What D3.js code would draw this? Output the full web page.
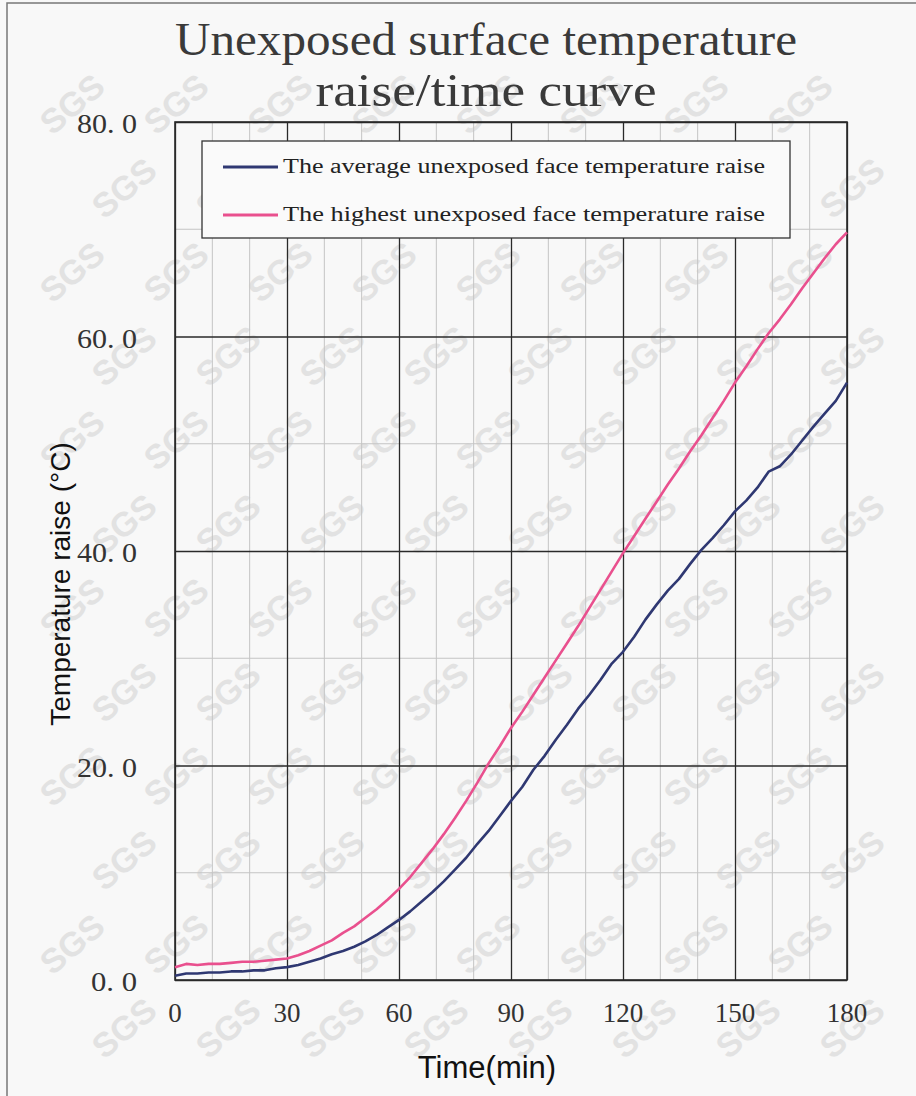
<!DOCTYPE html>
<html>
<head>
<meta charset="utf-8">
<script src="https://cdn.jsdelivr.net/npm/d3@7"></script>
<style>
  body { margin: 0; background: #f8f8f8; }
  svg { display: block; }
</style>
</head>
<body>
<svg></svg>
<script>
// chart data
const minutes = d3.range(0, 181, 3);
const averageRaise = [
  0.4, 0.6, 0.6, 0.7, 0.7, 0.8, 0.8, 0.9, 0.9, 1.1,
  1.2, 1.4, 1.7, 2.0, 2.4, 2.7, 3.1, 3.6, 4.2, 4.9,
  5.6, 6.4, 7.3, 8.2, 9.2, 10.3, 11.4, 12.7, 13.9, 15.3,
  16.7, 18.0, 19.6, 20.9, 22.4, 23.8, 25.3, 26.6, 28.0, 29.5,
  30.6, 32.0, 33.6, 35.0, 36.3, 37.4, 38.8, 40.1, 41.2, 42.4,
  43.7, 44.7, 45.9, 47.4, 47.9, 49.0, 50.3, 51.6, 52.8, 54.0,
  55.7
];
const highestRaise = [
  1.2, 1.5, 1.4, 1.5, 1.5, 1.6, 1.7, 1.7, 1.8, 1.9,
  2.0, 2.3, 2.7, 3.2, 3.7, 4.4, 5.0, 5.8, 6.6, 7.5,
  8.5, 9.6, 10.9, 12.2, 13.6, 15.1, 16.7, 18.4, 20.2, 21.8,
  23.5, 25.0, 26.6, 28.2, 29.8, 31.4, 33.0, 34.7, 36.4, 38.1,
  39.8, 41.4, 43.0, 44.6, 46.2, 47.7, 49.3, 50.8, 52.4, 54.0,
  55.7, 57.2, 58.8, 60.3, 61.6, 63.0, 64.5, 65.9, 67.3, 68.6,
  69.7
];
const seriesNames = [
  "The average unexposed face temperature raise",
  "The highest unexposed face temperature raise"
];
const seriesColors = ["#2f3872", "#e9508e"];
const xTicks = [0, 30, 60, 90, 120, 150, 180];
const yTicks = [0, 20, 40, 60, 80];
const titleLines = ["Unexposed surface temperature", "raise/time curve"];

const width = 916;
const height = 1096;
const plotLeft = 175, plotRight = 847, plotTop = 122, plotBottom = 980;

const svg = d3.select("svg")
  .attr("width", width)
  .attr("height", height);

svg.append("rect")
  .attr("width", width)
  .attr("height", height)
  .attr("fill", "#f8f8f8");

// scanned page border
svg.append("path")
  .attr("d", `M7,${height} V3 H${width}`)
  .attr("fill", "none")
  .attr("stroke", "#777")
  .attr("stroke-width", 1.5);

// SGS watermark, kept inside the page
const marks = svg.append("g").attr("fill", "#e2e2e2")
  .style("font-family", "Liberation Sans, Arial, sans-serif")
  .style("font-weight", "bold")
  .style("font-size", "34px");
for (let r = 0; r < 14; r++) {
  for (let c = 0; c < 10; c++) {
    const mx = 20 + c * 104 + (r % 2) * 52;
    const my = 20 + r * 84;
    if (mx < 45 || mx > width - 45 || my < 45 || my > height - 40) continue;
    marks.append("text")
      .attr("transform", `translate(${mx},${my}) rotate(-40)`)
      .attr("text-anchor", "middle")
      .attr("dy", "0.35em")
      .text("SGS");
  }
}

const x = d3.scaleLinear().domain([0, 180]).range([plotLeft, plotRight]);
const y = d3.scaleLinear().domain([0, 80]).range([plotBottom, plotTop]);

// minor grid
const grid = svg.append("g");
grid.selectAll(".vminor")
  .data(d3.range(10, 180, 10).filter(d => d % 30 !== 0))
  .join("line")
    .attr("x1", d => x(d)).attr("x2", d => x(d))
    .attr("y1", plotTop).attr("y2", plotBottom)
    .attr("stroke", "#c4c4c4").attr("stroke-width", 1);
grid.selectAll(".hminor")
  .data([10, 30, 50, 70])
  .join("line")
    .attr("y1", d => y(d)).attr("y2", d => y(d))
    .attr("x1", plotLeft).attr("x2", plotRight)
    .attr("stroke", "#c4c4c4").attr("stroke-width", 1);

// major grid via axes
const xAxis = d3.axisBottom(x)
  .tickValues(xTicks)
  .tickSize(-(plotBottom - plotTop))
  .tickFormat("");
const yAxis = d3.axisLeft(y)
  .tickValues(yTicks)
  .tickSize(-(plotRight - plotLeft))
  .tickFormat("");

svg.append("g")
  .attr("transform", `translate(0,${plotBottom})`)
  .call(xAxis)
  .call(g => g.select(".domain").remove())
  .call(g => g.selectAll("line").attr("stroke", "#2a2a2a").attr("stroke-width", 1.3));
svg.append("g")
  .attr("transform", `translate(${plotLeft},0)`)
  .call(yAxis)
  .call(g => g.select(".domain").remove())
  .call(g => g.selectAll("line").attr("stroke", "#2a2a2a").attr("stroke-width", 1.3));

svg.append("rect")
  .attr("x", plotLeft).attr("y", plotTop)
  .attr("width", plotRight - plotLeft).attr("height", plotBottom - plotTop)
  .attr("fill", "none")
  .attr("stroke", "#2a2a2a")
  .attr("stroke-width", 1.6);

// tick labels
const serif = "Liberation Serif, Times New Roman, serif";
svg.append("g").selectAll("text")
  .data(xTicks)
  .join("text")
    .attr("x", d => x(d))
    .attr("y", 1022)
    .attr("text-anchor", "middle")
    .style("font-family", serif)
    .style("font-size", "27px")
    .attr("fill", "#333")
    .text(d => d);
svg.append("g").selectAll("text")
  .data(yTicks)
  .join("text")
    .attr("x", 137)
    .attr("y", d => y(d) + 11)
    .attr("text-anchor", "end")
    .attr("textLength", d => d === 0 ? 46 : 60)
    .attr("lengthAdjust", "spacingAndGlyphs")
    .style("font-family", serif)
    .style("font-size", "27px")
    .attr("fill", "#333")
    .text(d => d.toFixed(1).replace(".", ". "));

// curves
const line = d3.line()
  .x((d, i) => x(minutes[i]))
  .y(d => y(d));
[averageRaise, highestRaise].forEach((s, k) => {
  svg.append("path")
    .datum(s)
    .attr("d", line)
    .attr("fill", "none")
    .attr("stroke", seriesColors[k])
    .attr("stroke-width", 2.6)
    .attr("stroke-linejoin", "round");
});

// legend
const legend = svg.append("g");
legend.append("rect")
  .attr("x", 202).attr("y", 141)
  .attr("width", 588).attr("height", 97)
  .attr("fill", "#fafafa")
  .attr("stroke", "#333")
  .attr("stroke-width", 1.3);
seriesNames.forEach((name, k) => {
  const ly = 167 + k * 48;
  legend.append("line")
    .attr("x1", 223).attr("x2", 278)
    .attr("y1", ly).attr("y2", ly)
    .attr("stroke", seriesColors[k])
    .attr("stroke-width", 3);
  legend.append("text")
    .attr("x", 283).attr("y", ly + 6)
    .attr("textLength", 482)
    .attr("lengthAdjust", "spacingAndGlyphs")
    .style("font-family", serif)
    .style("font-size", "20px")
    .attr("fill", "#222")
    .text(name);
});

// title
const titleLen = [622, 341];
titleLines.forEach((t, i) => {
  svg.append("text")
    .attr("x", 486)
    .attr("y", 55 + i * 51)
    .attr("text-anchor", "middle")
    .attr("textLength", titleLen[i])
    .attr("lengthAdjust", "spacingAndGlyphs")
    .style("font-family", serif)
    .style("font-size", "46px")
    .attr("fill", "#3a3a3a")
    .text(t);
});

// axis titles
svg.append("text")
  .attr("x", 487)
  .attr("y", 1078)
  .attr("text-anchor", "middle")
  .style("font-family", "Liberation Sans, Arial, sans-serif")
  .style("font-size", "31px")
  .attr("fill", "#111")
  .text("Time(min)");
svg.append("text")
  .attr("transform", "translate(70,584) rotate(-90)")
  .attr("text-anchor", "middle")
  .style("font-family", "Liberation Sans, Arial, sans-serif")
  .style("font-size", "28px")
  .attr("fill", "#111")
  .text("Temperature raise (°C)");
</script>
</body>
</html>
